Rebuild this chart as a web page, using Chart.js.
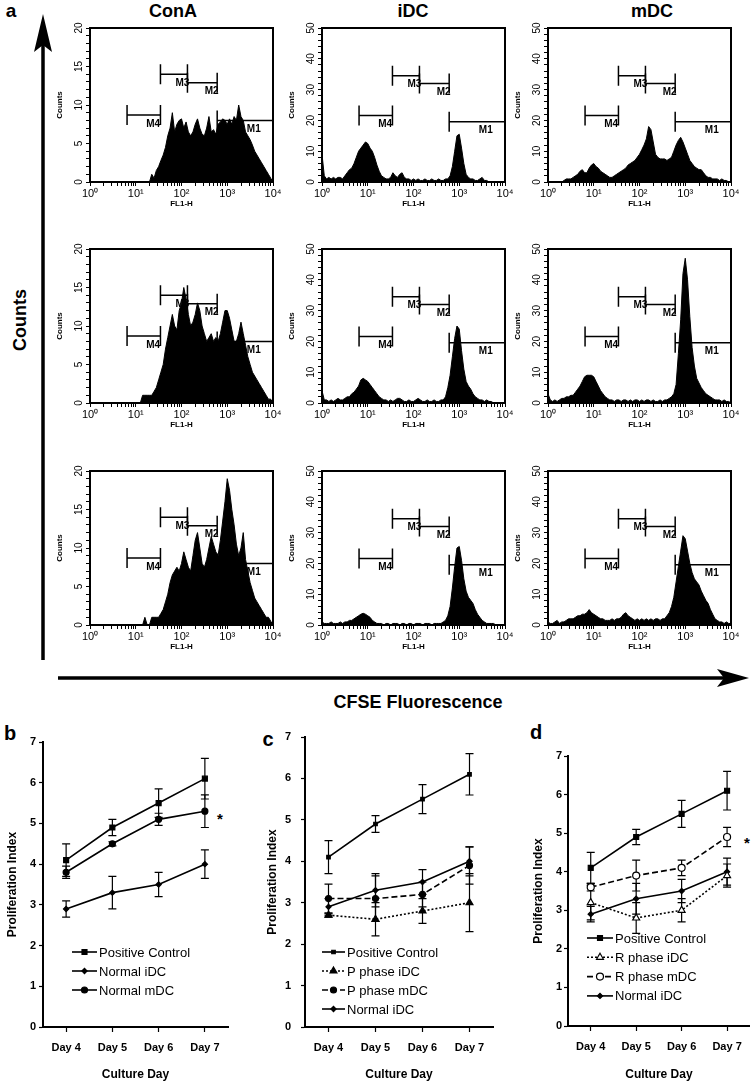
<!DOCTYPE html>
<html>
<head>
<meta charset="utf-8">
<script src="https://cdn.jsdelivr.net/npm/chart.js@4.4.1/dist/chart.umd.min.js"></script>
<style>
  body { margin: 0; background: #fff; }
  #page { position: relative; width: 755px; height: 1083px; overflow: hidden; font-family: "Liberation Sans", Arial, Helvetica, sans-serif; }
  canvas { position: absolute; }
  .lbl { position: absolute; font-weight: bold; color: #000; white-space: nowrap; line-height: 1; transform: translate(-50%, -50%); }
  .rot { transform: translate(-50%, -50%) rotate(-90deg); }
</style>
</head>
<body>
<div id="page">
  <svg width="755" height="1083" style="position:absolute;left:0;top:0">
    <line x1="43" y1="44" x2="43" y2="660" stroke="#000" stroke-width="3.5"/>
    <polygon points="43,14 52,52 43,45 34,52" fill="#000"/>
    <line x1="58" y1="678" x2="726" y2="678" stroke="#000" stroke-width="3.5"/>
    <polygon points="749,678 717,669 724,678 717,687" fill="#000"/>
  </svg>
  <div class="lbl" style="left:11px;top:10px;font-size:19px">a</div>
  <div class="lbl" style="left:173px;top:11px;font-size:18px">ConA</div>
  <div class="lbl" style="left:413px;top:11px;font-size:18px">iDC</div>
  <div class="lbl" style="left:652px;top:11px;font-size:18px">mDC</div>
  <div class="lbl rot" style="left:20px;top:320px;font-size:18px">Counts</div>
  <div class="lbl" style="left:418px;top:702px;font-size:18px">CFSE Fluorescence</div>
  <div class="lbl" style="left:10px;top:733px;font-size:20px">b</div>
  <div class="lbl" style="left:268px;top:739px;font-size:20px">c</div>
  <div class="lbl" style="left:536px;top:732px;font-size:20px">d</div>
  <div class="lbl" style="left:220px;top:818px;font-size:15px">*</div>
  <div class="lbl" style="left:747px;top:842px;font-size:15px">*</div>
</div>
<script>
Chart.defaults.font.family = "'Liberation Sans', Arial, Helvetica, sans-serif";
Chart.defaults.color = '#000';
Chart.defaults.animation = false;

// ---- flow cytometry histograms (20 channels per decade, 10^0 .. 10^4) ----
const binsPerDecade = 20;

const countsConA1 = [
  0, 0, 0, 0, 0, 0, 0, 0, 0, 0,
  0, 0, 0, 0, 0, 0, 0, 0, 0, 0,
  0, 0, 0, 0, 0, 0, 0, 1, 0.5, 1.5,
  2, 2.8, 3.5, 4.5, 6, 7, 9, 6.5, 7.5, 8,
  8.2, 7, 7.8, 6.5, 6, 6.5, 7.5, 8.2, 7, 6.2,
  6, 7, 8.5, 6.5, 6.8, 6.2, 7.5, 7.8, 8.2, 8,
  7.5, 8.2, 7.5, 8.5, 8, 10, 8.5, 8, 6.5, 6,
  5.5, 4.8, 4, 3.5, 3, 2.5, 2, 1.5, 1, 0.5,
  0
];
const countsIDC1 = [
  9, 2, 1, 1.5, 1, 1.5, 1, 1.5, 1.5, 1,
  2, 3, 4, 4.5, 6, 8, 10, 11, 12, 13,
  12.5, 11, 10, 8, 5.5, 3.5, 2, 1.5, 1, 1,
  1.5, 3, 2, 1.5, 2.5, 3, 1.5, 1, 1, 0.5,
  1, 0.5, 1, 0.5, 0.5, 1, 0.5, 0.5, 1, 0.5,
  0.5, 1, 0.5, 0.5, 1, 1, 2, 5, 10, 15,
  15.5, 11, 6, 2.5, 1.5, 1, 1, 0.5, 0.5, 1,
  1.5, 0.5, 0.5, 0, 0, 0, 0, 0, 0, 0,
  0
];
const countsMDC1 = [
  0, 0, 0, 0, 0, 0, 0, 0.5, 1, 1,
  1, 1.5, 2, 2.5, 3.5, 4, 3, 3, 4.5, 5.5,
  6, 5, 4.5, 3.5, 3, 2.5, 2, 1.5, 1.5, 2,
  2.5, 3, 3.5, 4, 4.5, 5.5, 6, 6.5, 7, 8,
  9, 10.5, 12, 14, 18, 17, 13, 9, 8, 7.5,
  7.5, 7.5, 7, 7.5, 8, 10, 12, 13.5, 14.5, 13,
  11, 9, 7, 6, 5, 4.5, 4, 4, 3, 2,
  1.5, 1.5, 1, 1, 1, 0.5, 1, 0.5, 0.5, 0,
  0
];
const countsConA2 = [
  0, 0, 0, 0, 0, 0, 0, 0, 0, 0,
  0, 0, 0, 0, 0, 0, 0, 0, 0, 0,
  0, 0, 0, 1, 1, 1, 1, 1, 1.5, 2,
  3, 4, 5, 7, 8.5, 10, 11.5, 10, 9.5, 12,
  13, 15, 13.5, 11.5, 10, 10.5, 11.5, 13, 12, 10,
  9, 8, 8.5, 9, 8, 8.5, 8, 9, 10.5, 12,
  12, 11, 9.5, 8, 8, 9, 10.5, 9, 7.5, 6,
  5, 4, 3.5, 3, 2.5, 2, 1.5, 1, 0.5, 0.5,
  0
];
const countsIDC2 = [
  4, 1, 1, 0.5, 1, 0.5, 1, 1.5, 1, 1,
  1.5, 2, 2, 3, 3.5, 4.5, 5.5, 7.5, 8, 7.5,
  7, 6, 5, 4, 3, 2, 1.5, 1, 1, 0.5,
  1, 0.5, 1, 1.5, 1.5, 1, 0.5, 0.5, 1, 0.5,
  0.5, 1, 1.5, 1, 0.5, 0.5, 1, 0.5, 0.5, 1,
  0.5, 0.5, 1, 1, 2, 5, 9, 15, 21, 25,
  24, 17, 11, 7, 5.5, 4.5, 3, 2, 1.5, 1,
  1, 0.5, 1, 0.5, 0.5, 0, 0, 0, 0, 0,
  0
];
const countsMDC2 = [
  3, 1, 0.5, 1, 0.5, 1, 1.5, 1.5, 2, 2,
  2.5, 2.5, 3.5, 4.5, 5.5, 7, 8.5, 9, 9, 9,
  8.5, 7, 5.5, 4, 3, 2, 1.5, 1, 1, 0.5,
  1, 1, 0.5, 1, 1, 0.5, 1, 0.5, 1, 1,
  0.5, 1, 0.5, 1, 1, 0.5, 1, 0.5, 0.5, 1,
  0.5, 1, 1, 1.5, 2, 3, 6, 16, 27, 42,
  47, 40, 28, 18, 12, 8, 6.5, 5, 4, 3,
  2.5, 2, 1.5, 1, 1, 1, 0.5, 1, 0.5, 0.5,
  0
];
const countsConA3 = [
  0, 0, 0, 0, 0, 0, 0, 0, 0, 0,
  0, 0, 0, 0, 0, 0, 0, 0, 0, 0,
  0, 0, 0, 0, 1, 0, 0, 1, 1, 1,
  1, 1.5, 2, 3, 4, 5.5, 6.5, 7, 7.5, 7,
  8, 9.5, 8.5, 7.5, 7, 9, 11, 12, 10, 8,
  7.5, 8.5, 10, 11.5, 10.5, 9.5, 9, 11, 13.5, 16,
  19, 17.5, 15, 13, 10.5, 9, 10, 12, 8.5, 7,
  5.5, 4.5, 3.5, 3, 2.5, 2, 1.5, 1, 1, 0.5,
  0
];
const countsIDC3 = [
  1, 0.5, 0.5, 0.5, 1, 0.5, 0.5, 0.5, 1, 0.5,
  1, 1, 1.5, 1.5, 2, 2.5, 3, 3.5, 3.8, 3.5,
  3, 2.5, 1.5, 1, 0.5, 0.5, 0.5, 0, 0.5, 0.5,
  0, 0.5, 0.5, 0.5, 0, 0.5, 0.5, 0, 0.5, 0.5,
  0, 0.5, 0.5, 0.5, 0, 0.5, 0.5, 0.5, 0, 0.5,
  0.5, 0.5, 0.5, 1, 1.5, 3, 6, 12, 19, 25,
  25.5, 21, 15, 11, 9, 8, 7, 5, 3.5, 2.5,
  1.5, 1, 0.5, 0.5, 0.5, 0.5, 0, 0, 0, 0,
  0
];
const countsMDC3 = [
  1, 0.5, 0.5, 1, 1.5, 0.5, 1, 1, 1.5, 2,
  2, 2, 2.5, 3, 3, 3.5, 3.5, 4, 5, 4,
  3.5, 3, 2.5, 2, 2, 1.5, 1.5, 1.5, 2, 1.5,
  2, 2, 2.5, 3.5, 4, 3, 2.5, 2, 1.5, 2,
  1.5, 2, 1.5, 2, 1.5, 2, 1.5, 2, 2, 1.5,
  2, 2, 3, 4, 6, 9, 14, 19, 24, 29,
  28, 24, 20, 17, 15, 14, 13, 11, 9.5, 8,
  7, 5, 3.5, 2, 1.5, 1, 1, 0.5, 1, 0.5,
  0.5
];

// marker gates M1..M4 (from / to in decades, level in counts)
const gateNames = ['M1', 'M2', 'M3', 'M4'];
const gateFrom = [2.78, 2.13, 1.54, 0.81];
const gateTo = [4.0, 2.78, 2.13, 1.54];
const gateLabelAt = [3.58, 2.66, 2.02, 1.38];
const gateLevelConA = [8, 12.9, 14, 8.7];
const gateLevelDC = [19.6, 32, 34.5, 21.6];

// ---- proliferation index ----
const days = ['Day 4', 'Day 5', 'Day 6', 'Day 7'];
const positiveControl = [4.1, 4.9, 5.5, 6.1];
const positiveControlErr = [0.4, 0.2, 0.35, 0.5];
const normalIDC = [2.9, 3.3, 3.5, 4.0];
const normalIDCErr = [0.2, 0.4, 0.3, 0.35];
const normalMDC = [3.8, 4.5, 5.1, 5.3];
const normalMDCErr = [0.15, 0.05, 0.15, 0.4];
const pPhaseIDC = [2.7, 2.6, 2.8, 3.0];
const pPhaseIDCErr = [0.05, 0.4, 0.3, 0.7];
const pPhaseMDC = [3.1, 3.1, 3.2, 3.9];
const pPhaseMDCErr = [0.35, 0.55, 0.3, 0.45];
const rPhaseIDC = [3.2, 2.8, 3.0, 3.9];
const rPhaseIDCErr = [0.45, 0.4, 0.3, 0.3];
const rPhaseMDC = [3.6, 3.9, 4.1, 4.9];
const rPhaseMDCErr = [0.1, 0.4, 0.2, 0.25];

const page = document.getElementById('page');
const FONT = "'Liberation Sans', Arial, Helvetica, sans-serif";
const sup = ['\u2070', '\u00b9', '\u00b2', '\u00b3', '\u2074'];

const logTicks = [];
for (let n = 0; n < 4; n++) {
  for (let k = 1; k <= 9; k++) logTicks.push(n + Math.log10(k));
}
logTicks.push(4);

function addCanvas(left, top, w, h) {
  const c = document.createElement('canvas');
  c.width = w; c.height = h;
  c.style.left = left + 'px'; c.style.top = top + 'px';
  page.appendChild(c);
  return c;
}

function histogram(left, top, counts, yMax, yStep, labelStep, levels) {
  const w = 183, h = 154, yW = 45, padTop = 10, padRight = 12, xH = 30;
  const canvas = addCanvas(left - yW, top - padTop, yW + w + padRight, padTop + h + xH);
  const yTicks = [];
  for (let v = 0; v <= yMax; v += yStep) yTicks.push(v);

  const decorations = {
    id: 'decorations',
    afterDraw(chart) {
      const { ctx, chartArea: a, scales: { x, y } } = chart;
      ctx.save();
      ctx.strokeStyle = '#000';
      ctx.fillStyle = '#000';
      ctx.lineWidth = 2;
      ctx.strokeRect(a.left, a.top, a.right - a.left, a.bottom - a.top);

      ctx.lineWidth = 1.5;
      ctx.font = 'bold 10px ' + FONT;
      ctx.textAlign = 'center';
      ctx.textBaseline = 'middle';
      gateNames.forEach((name, g) => {
        const x0 = x.getPixelForValue(gateFrom[g]);
        const x1 = x.getPixelForValue(gateTo[g]);
        const yy = y.getPixelForValue(levels[g]);
        ctx.beginPath();
        ctx.moveTo(x0, yy); ctx.lineTo(x1, yy);
        ctx.moveTo(x0, yy - 10); ctx.lineTo(x0, yy + 10);
        ctx.moveTo(x1, yy - 10); ctx.lineTo(x1, yy + 10);
        ctx.stroke();
        ctx.fillText(name, x.getPixelForValue(gateLabelAt[g]), yy + 9);
      });

      ctx.font = '10px ' + FONT;
      for (let v = 0; v <= yMax; v += labelStep) {
        ctx.save();
        ctx.translate(a.left - 11, y.getPixelForValue(v));
        ctx.rotate(-Math.PI / 2);
        ctx.fillText(String(v), 0, 0);
        ctx.restore();
      }
      ctx.restore();
    }
  };

  new Chart(canvas, {
    type: 'line',
    data: {
      datasets: [{
        data: counts.map((c, i) => ({ x: i / binsPerDecade, y: c })),
        borderColor: '#000',
        backgroundColor: '#000',
        borderWidth: 1,
        fill: 'origin',
        pointRadius: 0,
        tension: 0
      }]
    },
    options: {
      responsive: false,
      events: [],
      layout: { padding: { top: padTop, right: padRight, left: 0, bottom: 0 } },
      plugins: { legend: { display: false }, tooltip: { enabled: false } },
      scales: {
        x: {
          type: 'linear', min: 0, max: 4,
          afterBuildTicks: s => { s.ticks = logTicks.map(v => ({ value: v })); },
          afterFit: s => { s.height = xH; s.paddingLeft = 0; s.paddingRight = 0; },
          ticks: {
            autoSkip: false, maxRotation: 0, padding: 1,
            font: { size: 11 },
            callback: v => Number.isInteger(v) ? '10' + sup[v] : ''
          },
          grid: { drawOnChartArea: false, drawTicks: true, tickLength: 4, tickColor: '#000', tickWidth: 1 },
          border: { display: false },
          title: { display: true, text: 'FL1-H', font: { size: 8, weight: 'bold' }, padding: { top: 0, bottom: 3 } }
        },
        y: {
          type: 'linear', min: 0, max: yMax,
          afterBuildTicks: s => { s.ticks = yTicks.map(v => ({ value: v })); },
          afterFit: s => { s.width = yW; s.paddingTop = 0; s.paddingBottom = 0; },
          ticks: { display: false, autoSkip: false },
          grid: { drawOnChartArea: false, drawTicks: true, tickLength: 4, tickColor: '#000', tickWidth: 1 },
          border: { display: false },
          title: { display: true, text: 'Counts', font: { size: 8, weight: 'bold' }, padding: { top: 10, bottom: 0 } }
        }
      }
    },
    plugins: [decorations]
  });
}

const histRows = [
  [countsConA1, countsIDC1, countsMDC1],
  [countsConA2, countsIDC2, countsMDC2],
  [countsConA3, countsIDC3, countsMDC3]
];
const rowTops = [28, 249, 471];
const colLefts = [90, 322, 548];
const colYMax = [20, 50, 50];
const colYStep = [1, 2, 2];
const colLabelStep = [5, 10, 10];
const colLevels = [gateLevelConA, gateLevelDC, gateLevelDC];

histRows.forEach((row, r) => {
  row.forEach((counts, c) => {
    histogram(colLefts[c], rowTops[r], counts, colYMax[c], colYStep[c], colLabelStep[c], colLevels[c]);
  });
});

// ---- line charts with error bars ----
function drawMarker(ctx, style, r, x, y) {
  if (Chart.helpers && Chart.helpers.drawPoint) {
    Chart.helpers.drawPoint(ctx, { pointStyle: style, radius: r, rotation: 0, borderWidth: ctx.lineWidth }, x, y);
    return;
  }
  ctx.beginPath();
  if (style === 'rect') ctx.rect(x - r, y - r, 2 * r, 2 * r);
  else if (style === 'rectRot') { ctx.moveTo(x, y - r * 1.3); ctx.lineTo(x + r * 1.3, y); ctx.lineTo(x, y + r * 1.3); ctx.lineTo(x - r * 1.3, y); ctx.closePath(); }
  else if (style === 'triangle') { ctx.moveTo(x, y - r); ctx.lineTo(x + r, y + r * 0.8); ctx.lineTo(x - r, y + r * 0.8); ctx.closePath(); }
  else ctx.arc(x, y, r, 0, Math.PI * 2);
  ctx.fill();
  ctx.stroke();
}

const errorBars = {
  id: 'errorBars',
  beforeDatasetsDraw(chart) {
    const { ctx } = chart;
    const y = chart.scales.y;
    ctx.save();
    ctx.strokeStyle = '#000';
    ctx.lineWidth = 1.2;
    chart.data.datasets.forEach((ds, i) => {
      chart.getDatasetMeta(i).data.forEach((pt, j) => {
        const hi = y.getPixelForValue(ds.data[j] + ds.errors[j]);
        const lo = y.getPixelForValue(ds.data[j] - ds.errors[j]);
        ctx.beginPath();
        ctx.moveTo(pt.x, hi); ctx.lineTo(pt.x, lo);
        ctx.moveTo(pt.x - 4, hi); ctx.lineTo(pt.x + 4, hi);
        ctx.moveTo(pt.x - 4, lo); ctx.lineTo(pt.x + 4, lo);
        ctx.stroke();
      });
    });
    ctx.restore();
  }
};

function series(label, data, errors, pointStyle, radius, filled, dash) {
  return {
    label, data, errors,
    borderColor: '#000', borderWidth: 1.6, borderDash: dash,
    pointStyle, pointRadius: radius,
    pointBackgroundColor: filled ? '#000' : '#fff',
    pointBorderColor: '#000', pointBorderWidth: 1.2,
    tension: 0, fill: false
  };
}

function lineChart(area, yW, padTop, padRight, xH, yTickPad, legend, datasets) {
  const w = area.right - area.left, h = area.bottom - area.top;
  const canvas = addCanvas(area.left - yW, area.top - padTop, yW + w + padRight, padTop + h + xH);

  const legendBox = {
    id: 'legendBox',
    afterDraw(chart) {
      const { ctx, chartArea: a } = chart;
      ctx.save();
      chart.data.datasets.forEach((ds, i) => {
        const yy = a.top + legend.y0 + i * legend.gap;
        const x0 = a.left + legend.x0, x1 = a.left + legend.x1;
        ctx.strokeStyle = '#000';
        ctx.lineWidth = 1.6;
        ctx.setLineDash(ds.borderDash || []);
        ctx.beginPath(); ctx.moveTo(x0, yy); ctx.lineTo(x1, yy); ctx.stroke();
        ctx.setLineDash([]);
        ctx.lineWidth = 1.2;
        ctx.fillStyle = ds.pointBackgroundColor;
        drawMarker(ctx, ds.pointStyle, ds.pointRadius, (x0 + x1) / 2, yy);
        ctx.fillStyle = '#000';
        ctx.font = '13px ' + FONT;
        ctx.textAlign = 'left';
        ctx.textBaseline = 'middle';
        ctx.fillText(ds.label, x1 + 2, yy + 1);
      });
      ctx.restore();
    }
  };

  new Chart(canvas, {
    type: 'line',
    data: { labels: days, datasets },
    options: {
      responsive: false,
      events: [],
      layout: { padding: { top: padTop, right: padRight, left: 0, bottom: 0 } },
      plugins: { legend: { display: false }, tooltip: { enabled: false } },
      scales: {
        x: {
          offset: true,
          afterFit: s => { s.height = xH; s.paddingLeft = 0; s.paddingRight = 0; },
          ticks: { font: { size: 11, weight: 'bold' }, padding: 9, maxRotation: 0 },
          grid: { display: true, offset: false, drawOnChartArea: false, drawTicks: true, tickLength: 5, tickColor: '#000', tickWidth: 1.2 },
          border: { display: true, color: '#000', width: 2 },
          title: { display: true, text: 'Culture Day', font: { size: 12, weight: 'bold' }, padding: { top: 0, bottom: 1 } }
        },
        y: {
          min: 0, max: 7,
          afterFit: s => { s.width = yW; s.paddingTop = 0; s.paddingBottom = 0; },
          ticks: { stepSize: 1, font: { size: 11, weight: 'bold' }, padding: yTickPad },
          grid: { drawOnChartArea: false, drawTicks: true, tickLength: 4, tickColor: '#000', tickWidth: 1.2 },
          border: { display: true, color: '#000', width: 2 },
          title: { display: true, text: 'Proliferation Index', font: { size: 12, weight: 'bold' }, padding: { top: 5, bottom: 0 } }
        }
      }
    },
    plugins: [errorBars, legendBox]
  });
}

lineChart({ left: 43, top: 742, right: 228, bottom: 1027 }, 43, 12, 14, 56, 3,
  { x0: 29, x1: 54, y0: 210, gap: 19 },
  [
    series('Positive Control', positiveControl, positiveControlErr, 'rect', 3.5, true, []),
    series('Normal iDC', normalIDC, normalIDCErr, 'rectRot', 2.6, true, []),
    series('Normal mDC', normalMDC, normalMDCErr, 'circle', 3, true, [])
  ]);

lineChart({ left: 305, top: 737, right: 493, bottom: 1027 }, 45, 12, 12, 56, 10,
  { x0: 17, x1: 40, y0: 215, gap: 19 },
  [
    series('Positive Control', positiveControl, positiveControlErr, 'rect', 2.5, true, []),
    series('P phase iDC', pPhaseIDC, pPhaseIDCErr, 'triangle', 4, true, [2, 2]),
    series('P phase mDC', pPhaseMDC, pPhaseMDCErr, 'circle', 3, true, [6, 3]),
    series('Normal iDC', normalIDC, normalIDCErr, 'rectRot', 2.6, true, [])
  ]);

lineChart({ left: 568, top: 756, right: 752, bottom: 1026 }, 42, 12, 3, 57, 2,
  { x0: 19, x1: 45, y0: 182, gap: 19.3 },
  [
    series('Positive Control', positiveControl, positiveControlErr, 'rect', 3.5, true, []),
    series('R phase iDC', rPhaseIDC, rPhaseIDCErr, 'triangle', 4, false, [2, 2]),
    series('R phase mDC', rPhaseMDC, rPhaseMDCErr, 'circle', 3.5, false, [6, 3]),
    series('Normal iDC', normalIDC, normalIDCErr, 'rectRot', 2.6, true, [])
  ]);
</script>
</body>
</html>
